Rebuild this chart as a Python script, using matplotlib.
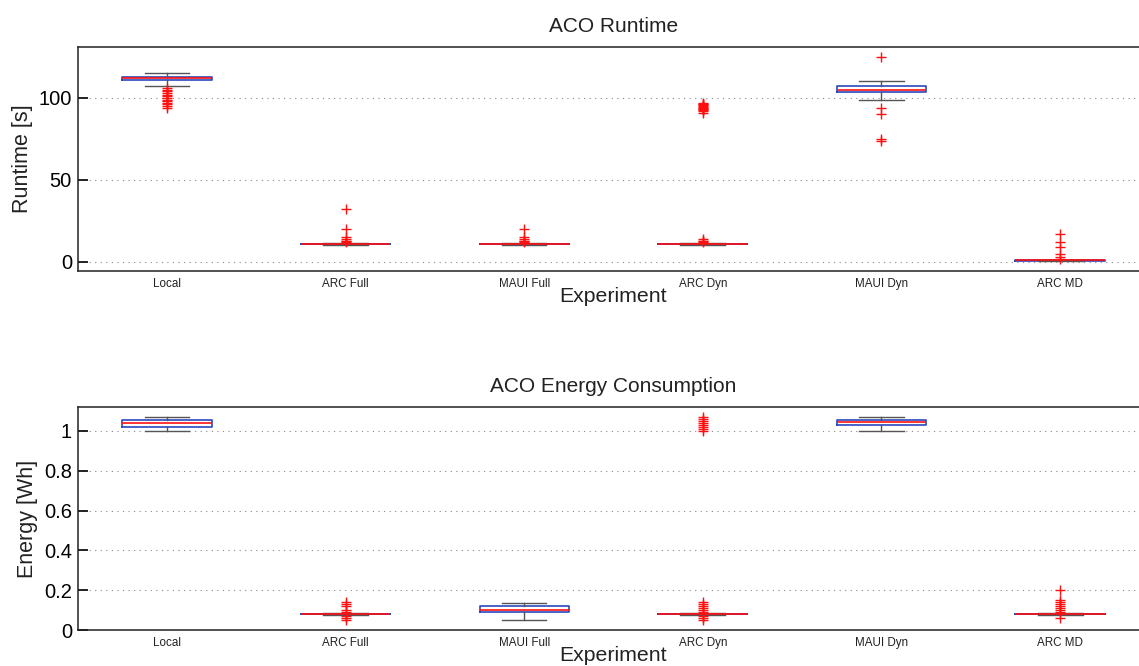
import matplotlib.pyplot as plt
import numpy as np

plt.rcParams['font.family'] = ['Liberation Sans', 'DejaVu Sans']

experiments = ['Local', 'ARC Full', 'MAUI Full', 'ARC Dyn', 'MAUI Dyn', 'ARC MD']

# Runtime [s] box statistics
rt_med = [112, 11, 11, 11, 105, 1]
rt_q1 = [111, 10.8, 10.8, 10.8, 103.5, 0.8]
rt_q3 = [113, 11.2, 11.2, 11.2, 107, 1.2]
rt_lo = [107, 10.5, 10.5, 10.5, 99, 0.5]
rt_hi = [115, 11.5, 11.5, 11.5, 110, 1.5]
rt_out = [
    [94, 95, 96, 97, 98, 99, 100, 101, 102, 103, 104, 105, 106],
    [32, 20, 15, 14, 13, 12.5, 12],
    [20, 15, 14, 13, 12.5, 12],
    [14, 13, 12.5, 12, 91, 92, 92.5, 93, 93.5, 94, 94.5, 95, 95.5, 96, 96.5, 97],
    [125, 94, 90, 75, 74],
    [17, 12, 9, 5, 3, 2],
]

# Energy [Wh] box statistics
en_med = [1.04, 0.08, 0.10, 0.08, 1.045, 0.08]
en_q1 = [1.02, 0.078, 0.09, 0.078, 1.03, 0.078]
en_q3 = [1.055, 0.082, 0.12, 0.082, 1.055, 0.082]
en_lo = [1.0, 0.076, 0.05, 0.076, 1.0, 0.076]
en_hi = [1.07, 0.085, 0.135, 0.085, 1.07, 0.085]
en_out = [
    [],
    [0.14, 0.13, 0.12, 0.10, 0.09, 0.07, 0.06, 0.05],
    [],
    [0.14, 0.13, 0.12, 0.11, 0.10, 0.09, 0.07, 0.06, 0.05,
     1.0, 1.01, 1.02, 1.03, 1.04, 1.05, 1.06, 1.07],
    [],
    [0.20, 0.15, 0.14, 0.13, 0.12, 0.11, 0.10, 0.09, 0.06],
]


def make_stats(med, q1, q3, lo, hi, out):
    return [dict(med=m, q1=a, q3=b, whislo=l, whishi=h, fliers=f, label=n)
            for m, a, b, l, h, f, n in zip(med, q1, q3, lo, hi, out, experiments)]


def draw(ax, stats, title, ylabel, ylim, yticks, yfmt):
    ax.bxp(stats, positions=range(1, 7), widths=0.5, showfliers=True,
           boxprops=dict(color='#2a48c0', linewidth=1.2),
           medianprops=dict(color='#ff1010', linewidth=1.2),
           whiskerprops=dict(color='#555555', linewidth=1.0),
           capprops=dict(color='#555555', linewidth=1.0),
           flierprops=dict(marker='+', markeredgecolor='#ff1010',
                           markersize=7, markeredgewidth=1.0, linestyle='none'))
    ax.set_xlim(0.5, 6.5)
    ax.set_ylim(*ylim)
    ax.set_yticks(yticks)
    ax.set_yticklabels([yfmt(v) for v in yticks], fontsize=14.5)
    ax.set_xticklabels(experiments, fontsize=8.4, color='#222222')
    ax.tick_params(axis='x', length=0, pad=5)
    ax.tick_params(axis='y', direction='in', length=7, width=1.2, pad=4)
    ax.yaxis.grid(True, linestyle=(0, (1, 4)), color='#888888', linewidth=0.8)
    ax.set_axisbelow(True)
    for s in ax.spines.values():
        s.set_linewidth(1.1)
        s.set_color('#222222')
    ax.set_title(title, fontsize=15, pad=10.5, color='#222222')
    ax.set_ylabel(ylabel, fontsize=15.5, labelpad=4, color='#222222')
    ax.set_xlabel('Experiment', fontsize=15.3, labelpad=-2, color='#222222')


fig = plt.figure(figsize=(11.39, 6.66), dpi=100)
ax1 = fig.add_axes([77.5 / 1139, 1 - 271 / 666, 1072 / 1139, 224 / 666])
ax2 = fig.add_axes([77.5 / 1139, 1 - 630 / 666, 1072 / 1139, 223 / 666])

draw(ax1, make_stats(rt_med, rt_q1, rt_q3, rt_lo, rt_hi, rt_out),
     'ACO Runtime', 'Runtime [s]', (-5.5, 131), [0, 50, 100], lambda v: '%d' % v)
draw(ax2, make_stats(en_med, en_q1, en_q3, en_lo, en_hi, en_out),
     'ACO Energy Consumption', 'Energy [Wh]', (0, 1.12),
     [0, 0.2, 0.4, 0.6, 0.8, 1.0], lambda v: '%g' % v)

fig.savefig('out.png', dpi=100)
